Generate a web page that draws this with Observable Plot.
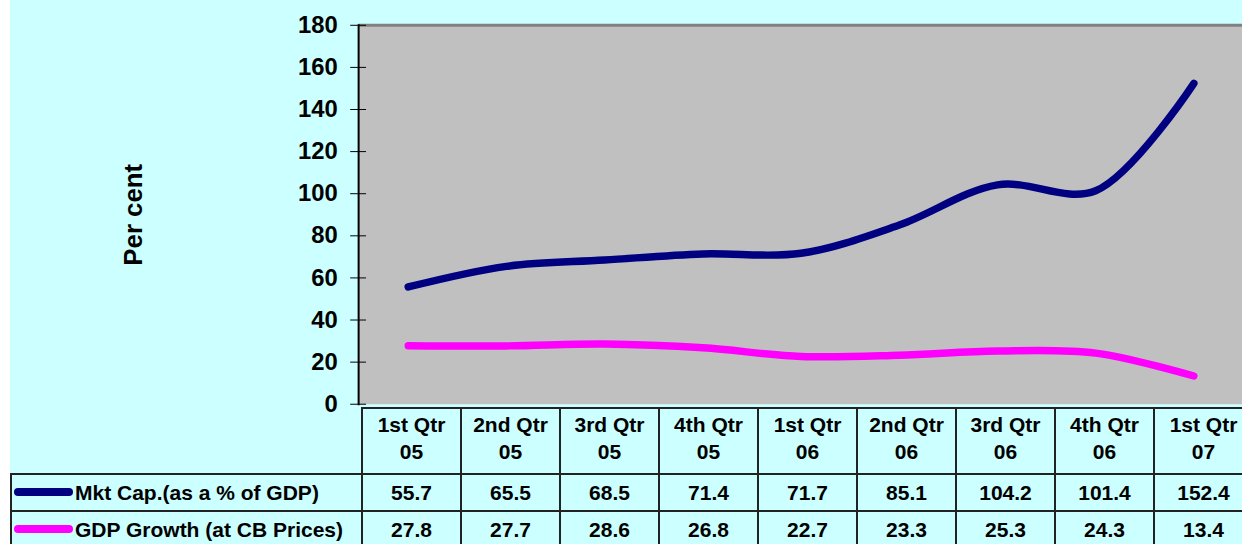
<!DOCTYPE html>
<html>
<head>
<meta charset="utf-8">
<script src="https://cdn.jsdelivr.net/npm/d3@7"></script>
<script src="https://cdn.jsdelivr.net/npm/@observablehq/plot@0.6"></script>
<style>
  html, body { margin: 0; padding: 0; background: #ffffff; overflow: hidden; width: 1242px; height: 544px; }
  #wrap { position: absolute; left: 10px; top: 0; width: 1232px; height: 544px; background: #CCFFFF; overflow: hidden; }
  #chart { position: absolute; left: -10px; top: 0; }
  #tbl { position: absolute; left: 0px; top: 407px; border-collapse: collapse; table-layout: fixed;
         font-family: "Liberation Sans", Arial, sans-serif; font-weight: bold; font-size: 21px; color: #000; }
  #tbl td { padding: 0; text-align: center; border: 2px solid #222; overflow: hidden; }
  #tbl tr.head td { height: 58px; line-height: 27px; padding-bottom: 6px; }
  #tbl tr.head td.blank { border: none; border-right: 2px solid #222; }
  #tbl tr.data td { height: 35px; }
  #tbl td.lab { text-align: left; white-space: nowrap; }
  .sw { display: inline-block; width: 59px; height: 8px; border-radius: 4px; vertical-align: middle; margin: 0 2px 0 2px; position: relative; top: -2px; }
</style>
</head>
<body>
<div id="wrap">
  <div id="chart"></div>
  <table id="tbl"></table>
</div>
<script>
const categories = ["1st Qtr 05", "2nd Qtr 05", "3rd Qtr 05", "4th Qtr 05", "1st Qtr 06", "2nd Qtr 06", "3rd Qtr 06", "4th Qtr 06", "1st Qtr 07"];
const mktCap = [55.7, 65.5, 68.5, 71.4, 71.7, 85.1, 104.2, 101.4, 152.4];
const gdpGrowth = [27.8, 27.7, 28.6, 26.8, 22.7, 23.3, 25.3, 24.3, 13.4];
const seriesNames = ["Mkt Cap.(as a % of GDP)", "GDP Growth (at CB Prices)"];
const seriesColors = ["#000080", "#FF00FF"];
const yTicks = [0, 20, 40, 60, 80, 100, 120, 140, 160, 180];
const yLabel = "Per cent";

const rows = [];
categories.forEach((c, i) => {
  rows.push({cat: c, value: mktCap[i], series: seriesNames[0]});
  rows.push({cat: c, value: gdpGrowth[i], series: seriesNames[1]});
});

const chart = Plot.plot({
  width: 1252,
  height: 409,
  marginLeft: 361,
  marginRight: 0,
  marginTop: 25,
  marginBottom: 2,
  style: {background: "transparent", fontFamily: "Liberation Sans, Arial, sans-serif", overflow: "visible"},
  x: {type: "point", domain: categories, padding: 0.5, axis: null},
  y: {domain: [0, 180], axis: null},
  color: {domain: seriesNames, range: seriesColors},
  marks: [
    Plot.frame({fill: "#C0C0C0"}),
    Plot.ruleY([180], {stroke: "#808080", strokeWidth: 3}),
    Plot.axisY({ticks: yTicks, tickSize: 8, tickPadding: 13, fontSize: 24, fontWeight: "bold", stroke: "#000", fill: "#000", label: null}),
    Plot.axisY({ticks: yTicks, tickSize: -8, tickFormat: () => "", stroke: "#000", label: null}),
    Plot.line(rows, {x: "cat", y: "value", z: "series", stroke: "series", strokeWidth: 7.5, curve: "catmull-rom", strokeLinecap: "round", strokeLinejoin: "round"}),
    Plot.frame({anchor: "left", stroke: "#000", strokeWidth: 2}),
    Plot.text([yLabel], {frameAnchor: "left", dx: -227, rotate: -90, textAnchor: "middle", fontSize: 26, fontWeight: "bold", fill: "#000"})
  ]
});
document.getElementById("chart").appendChild(chart);

// table below the chart
const tbl = document.getElementById("tbl");
const colgroup = document.createElement("colgroup");
const c0 = document.createElement("col"); c0.style.width = "351px"; colgroup.appendChild(c0);
categories.forEach(() => { const c = document.createElement("col"); c.style.width = "99px"; colgroup.appendChild(c); });
tbl.appendChild(colgroup);
tbl.style.width = (351 + 99 * categories.length) + "px";

const head = document.createElement("tr"); head.className = "head";
const blank = document.createElement("td"); blank.className = "blank"; head.appendChild(blank);
categories.forEach(c => {
  const td = document.createElement("td");
  const k = c.lastIndexOf(" ");
  td.innerHTML = c.slice(0, k) + "<br>" + c.slice(k + 1);
  head.appendChild(td);
});
tbl.appendChild(head);

[mktCap, gdpGrowth].forEach((vals, s) => {
  const tr = document.createElement("tr"); tr.className = "data";
  const lab = document.createElement("td"); lab.className = "lab";
  const sw = document.createElement("span"); sw.className = "sw"; sw.style.background = seriesColors[s];
  lab.appendChild(sw);
  lab.appendChild(document.createTextNode(seriesNames[s]));
  tr.appendChild(lab);
  vals.forEach(v => { const td = document.createElement("td"); td.textContent = v.toFixed(1); tr.appendChild(td); });
  tbl.appendChild(tr);
});
</script>
</body>
</html>
